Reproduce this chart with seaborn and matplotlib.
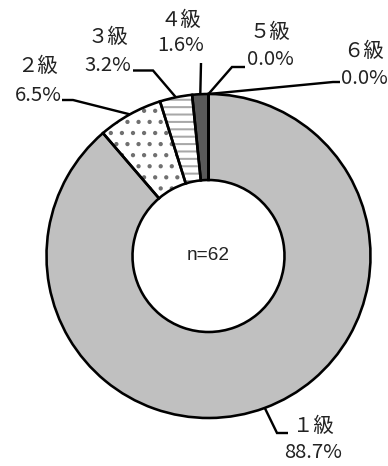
import numpy as np
import matplotlib
matplotlib.use("Agg")
import matplotlib.pyplot as plt
import seaborn as sns

# Disability grade breakdown (n=62)
grades = ["１級", "２級", "３級", "４級", "５級", "６級"]
counts = [55, 4, 2, 1, 0, 0]
pct_labels = ["88.7%", "6.5%", "3.2%", "1.6%", "0.0%", "0.0%"]
total_label = "n=62"

sns.set_theme(style="white")
plt.rcParams["font.family"] = ["Noto Sans CJK JP", "DejaVu Sans"]
plt.rcParams["hatch.linewidth"] = 1.1

DPI = 133
W, H = 388, 466
fig = plt.figure(figsize=(W / DPI, H / DPI), dpi=DPI)
ax = fig.add_axes([0, 0, 1, 1])

center = (208.5, H - 256)
R = 162
ring = 86

fills = ["#c0c0c0", "white", "white", "#595959", "white", "white"]
hatch_cols = ["#c0c0c0", "#707070", "#a8a8a8", "#595959", "white", "white"]
hatches = [None, "..", "---", None, None, None]

# fill layer (hatch colour follows edge colour)
wedges, _ = ax.pie(counts, startangle=90, counterclock=False, center=center,
                   radius=R, colors=fills,
                   wedgeprops=dict(width=ring, linewidth=0))
for w, hc, h in zip(wedges, hatch_cols, hatches):
    w.set_edgecolor(hc)
    if h:
        w.set_hatch(h)
    w.set_linewidth(0)

# outline layer
outl, _ = ax.pie(counts, startangle=90, counterclock=False, center=center,
                 radius=R, colors=["none"] * len(counts),
                 wedgeprops=dict(width=ring, edgecolor="black", linewidth=1.4,
                                 facecolor="none"))

# pie() resets the limits, so fix the pixel-like frame afterwards
ax.set_xlim(0, W)
ax.set_ylim(0, H)
ax.set_aspect("equal")
ax.axis("off")

ax.text(center[0], center[1], total_label, ha="center", va="center",
        fontsize=10.3, family=["Liberation Sans", "DejaVu Sans"], color="#222222")

# label blocks: (text centre x, first line y, second line y) in pixels from top
label_pos = [(313, 426, 453), (38, 67, 95.5), (108, 37.5, 65.5),
             (181, 20.5, 45.5), (270, 33, 59.5), (364, 51.5, 78.5)]
# leader line bends (pixels from top), from the ring edge out to the label
bends = [[(277, 433), (288, 433)],
         [(73, 100), (62, 100)],
         [(153, 70.5), (133, 70.5)],
         [(201, 63)],
         [(232, 67), (245, 67)],
         [(333, 82), (340, 82)]]

frac = np.array(counts) / sum(counts)
edges = 90 - 360 * np.concatenate([[0], np.cumsum(frac)])
for i, g in enumerate(grades):
    mid = np.deg2rad((edges[i] + edges[i + 1]) / 2)
    sx = center[0] + R * np.cos(mid)
    sy = center[1] + R * np.sin(mid)
    xs = [sx] + [p[0] for p in bends[i]]
    ys = [sy] + [H - p[1] for p in bends[i]]
    ax.plot(xs, ys, color="black", lw=1.3, solid_capstyle="butt",
            solid_joinstyle="miter")
    x, y1, y2 = label_pos[i]
    ax.text(x, H - y1, g, ha="center", va="center", fontsize=11,
            color="#222222")
    ax.text(x, H - y2, pct_labels[i], ha="center", va="center", fontsize=11,
            color="#222222")

fig.savefig("out.png", dpi=DPI, facecolor="white")
